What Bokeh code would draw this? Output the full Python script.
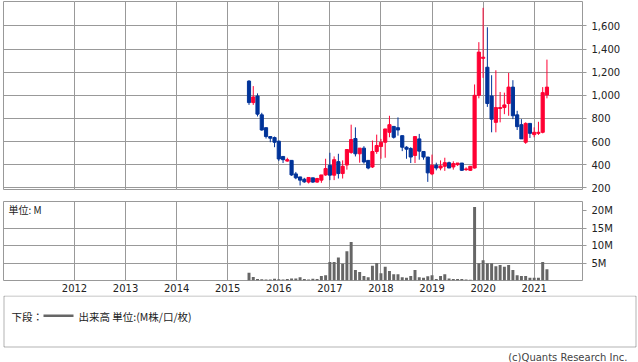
from bokeh.plotting import figure
from bokeh.layouts import column
from bokeh.models import (ColumnDataSource, Range1d, FixedTicker, NumeralTickFormatter,
                          Label, BoxAnnotation, Grid, CustomJSTickFormatter)
from bokeh.embed import file_html
from bokeh.resources import INLINE

# ---- data (monthly candles) ----
months = ["2015-06", "2015-07", "2015-08", "2015-09", "2015-10", "2015-11", "2015-12",
          "2016-01", "2016-02", "2016-03", "2016-04", "2016-05", "2016-06", "2016-07",
          "2016-08", "2016-09", "2016-10", "2016-11", "2016-12",
          "2017-01", "2017-02", "2017-03", "2017-04", "2017-05", "2017-06", "2017-07",
          "2017-08", "2017-09", "2017-10", "2017-11", "2017-12",
          "2018-01", "2018-02", "2018-03", "2018-04", "2018-05", "2018-06", "2018-07",
          "2018-08", "2018-09", "2018-10", "2018-11", "2018-12",
          "2019-01", "2019-02", "2019-03", "2019-04", "2019-05", "2019-06", "2019-07",
          "2019-08", "2019-09", "2019-10", "2019-11", "2019-12",
          "2020-01", "2020-02", "2020-03", "2020-04", "2020-05", "2020-06", "2020-07",
          "2020-08", "2020-09", "2020-10", "2020-11", "2020-12",
          "2021-01", "2021-02", "2021-03", "2021-04"]
opens = [1123, 937, 994, 831, 720, 643, 634,
         603, 471, 431, 437, 320, 294, 274, 249, 286, 249, 266, 311,
         394, 309, 426, 323, 397, 506, 626, 494, 543, 437, 380, 514,
         557, 594, 680, 731, 720, 651, 551, 540, 480, 623, 514, 466,
         320, 395, 371, 386, 417, 380, 400, 414, 357, 351, 371, 1000,
         1320, 1243, 994, 766, 886, 894, 929, 1071, 831, 746, 594, 757,
         660, 671, 680, 1003]
highs = [1131, 1080, 1017, 849, 720, 643, 643,
         609, 471, 460, 437, 337, 294, 286, 289, 286, 286, 311, 451,
         503, 471, 494, 437, 531, 746, 723, 543, 560, 437, 609, 660,
         623, 709, 823, 731, 809, 651, 560, 551, 643, 666, 514, 466,
         487, 417, 437, 460, 426, 429, 414, 414, 377, 386, 1094, 1460,
         1757, 1589, 1174, 1217, 1029, 1023, 1194, 1131, 866, 794, 766, 757,
         723, 771, 1071, 1309]
lows = [917, 917, 817, 694, 626, 594, 551,
        431, 414, 426, 303, 274, 220, 243, 237, 243, 243, 243, 303,
        266, 266, 280, 280, 357, 494, 471, 417, 409, 360, 371, 494,
        451, 460, 637, 626, 651, 517, 451, 414, 414, 443, 443, 251,
        309, 351, 351, 346, 371, 357, 389, 346, 346, 346, 366, 974,
        1151, 900, 680, 680, 766, 837, 823, 794, 700, 623, 580, 631,
        637, 657, 671, 974]
closes = [937, 986, 837, 700, 643, 629, 594,
          449, 443, 443, 311, 286, 266, 251, 289, 249, 280, 311, 366,
          309, 443, 323, 386, 531, 617, 494, 543, 423, 371, 514, 566,
          594, 709, 746, 637, 700, 551, 534, 466, 643, 517, 466, 329,
          395, 371, 389, 417, 371, 409, 414, 351, 363, 386, 1000, 1374,
          1330, 929, 794, 894, 894, 917, 1071, 823, 729, 623, 757, 671,
          680, 680, 1023, 1071]
volumes_m = [2.2, 1.0, 0.4, 0.35, 0.3, 0.3, 0.5,
             0.35, 0.3, 0.4, 0.6, 0.6, 0.9, 0.4, 0.3, 0.5, 0.4, 1.3, 1.5,
             5.3, 5.3, 6.6, 4.8, 8.4, 11.0, 3.0, 2.4, 1.3, 0.9, 4.2, 5.0,
             2.1, 3.9, 2.7, 1.8, 1.8, 0.9, 0.8, 1.3, 3.0, 0.9, 0.8, 1.2,
             1.5, 0.4, 1.3, 1.8, 0.6, 0.4, 0.4, 0.4, 0.3, 0.2, 21.0, 4.9,
             5.8, 4.9, 4.9, 4.1, 4.4, 3.9, 4.4, 3.0, 1.5, 1.3, 1.3, 0.8,
             0.8, 0.8, 5.3, 3.2]
year_ticks = [2012, 2013, 2014, 2015, 2016, 2017, 2018, 2019, 2020, 2021]
price_ticks = [200, 400, 600, 800, 1000, 1200, 1400, 1600]
volume_ticks = [5, 10, 15, 20]
volume_grid = [5, 10, 15]

UP = "#ff0033"
DOWN = "#003399"
GRID = "#999999"
LATIN = "DejaVu Sans"
CJK = "Noto Sans CJK JP"

xs = [int(m[:4]) + (int(m[5:7]) - 1) / 12 for m in months]
src = ColumnDataSource(dict(
    x=xs, open=opens, high=highs, low=lows, close=closes,
    top=[max(o, c) for o, c in zip(opens, closes)],
    bottom=[min(o, c) for o, c in zip(opens, closes)],
    color=[UP if c >= o else DOWN for o, c in zip(opens, closes)],
    vol=volumes_m,
))

xr = Range1d(2010.61, 2021.946)

# ---- price panel ----
p1 = figure(width=638, height=195, x_range=xr, y_range=Range1d(185, 1812),
            x_axis_location=None, y_axis_location="right",
            output_backend="svg", toolbar_location=None,
            min_border_left=3, min_border_right=56, min_border_top=1, min_border_bottom=6)
p1.outline_line_color = GRID
p1.add_layout(Grid(dimension=0, ticker=FixedTicker(ticks=year_ticks), grid_line_color=GRID))
p1.ygrid.ticker = FixedTicker(ticks=price_ticks)
p1.ygrid.grid_line_color = GRID
ya = p1.yaxis[0]
ya.ticker = FixedTicker(ticks=price_ticks)
ya.formatter = NumeralTickFormatter(format="0,0")
ya.axis_line_color = None
ya.major_tick_out = 4
ya.major_tick_in = 0
ya.major_tick_line_color = GRID
ya.minor_tick_line_color = None
ya.major_label_text_font = LATIN
ya.major_label_text_font_size = "10px"
ya.major_label_text_color = "#222222"
ya.major_label_standoff = 5

p1.segment(x0="x", y0="low", x1="x", y1="high", line_color="color", line_width=1, source=src)
p1.vbar(x="x", top="top", bottom="bottom", width=0.062, fill_color="color",
        line_color="color", line_width=1, source=src)

# ---- volume panel ----
p2 = figure(width=638, height=100, x_range=xr, y_range=Range1d(0, 22.6),
            y_axis_location="right", output_backend="svg", toolbar_location=None,
            min_border_left=3, min_border_right=56, min_border_top=6, min_border_bottom=15)
p2.outline_line_color = GRID
p2.xgrid.ticker = FixedTicker(ticks=year_ticks)
p2.xgrid.grid_line_color = GRID
p2.ygrid.ticker = FixedTicker(ticks=volume_grid)
p2.ygrid.grid_line_color = GRID
xa = p2.xaxis[0]
xa.ticker = FixedTicker(ticks=year_ticks)
xa.axis_line_color = None
xa.major_tick_out = 0
xa.major_tick_in = 0
xa.minor_tick_line_color = None
xa.major_label_text_font = LATIN
xa.major_label_text_font_size = "10px"
xa.major_label_text_color = "#222222"
xa.major_label_standoff = 3
va = p2.yaxis[0]
va.ticker = FixedTicker(ticks=volume_ticks)
va.formatter = CustomJSTickFormatter(code="return tick + 'M';")
va.axis_line_color = None
va.major_tick_out = 4
va.major_tick_in = 0
va.major_tick_line_color = GRID
va.minor_tick_line_color = None
va.major_label_text_font = LATIN
va.major_label_text_font_size = "10px"
va.major_label_text_color = "#222222"
va.major_label_standoff = 5

p2.vbar(x="x", top="vol", bottom=0, width=0.058, fill_color="#666666",
        line_color=None, source=src)
p2.add_layout(Label(x=2010.61 + 5 / 51.08, y=22.6, text="単位: M", text_baseline="top",
                    text_font=CJK, text_font_size="10px", text_color="#222222"))

# ---- legend / footer ----
p3 = figure(width=638, height=67, x_range=Range1d(0, 638), y_range=Range1d(67, 0),
            x_axis_location=None, y_axis_location=None, output_backend="svg",
            toolbar_location=None, min_border=0)
p3.frame_align = False
p3.outline_line_color = None
p3.xgrid.visible = False
p3.ygrid.visible = False
p3.add_layout(BoxAnnotation(left=3.5, right=635.5, top=0.5, bottom=51.5,
                            fill_color=None, line_color="black", line_width=1))
p3.add_layout(BoxAnnotation(left=43, right=73, top=19, bottom=21.5,
                            fill_color="#666666", fill_alpha=1, line_color=None))
p3.add_layout(Label(x=11, y=20.5, text="下段：", text_baseline="middle",
                    text_font=CJK, text_font_size="10.5px", text_color="#222222"))
p3.add_layout(Label(x=78, y=20.5, text="出来高 単位:(M株/口/枚)", text_baseline="middle",
                    text_font=CJK, text_font_size="10.5px", text_color="#222222"))
p3.add_layout(Label(x=627, y=61.5, text="(c)Quants Research Inc.", text_align="right",
                    text_baseline="middle", text_font=LATIN, text_font_size="10px",
                    text_color="#444444"))

layout = column(p1, p2, p3, spacing=0)
open("out.html", "w").write(file_html(layout, INLINE))
